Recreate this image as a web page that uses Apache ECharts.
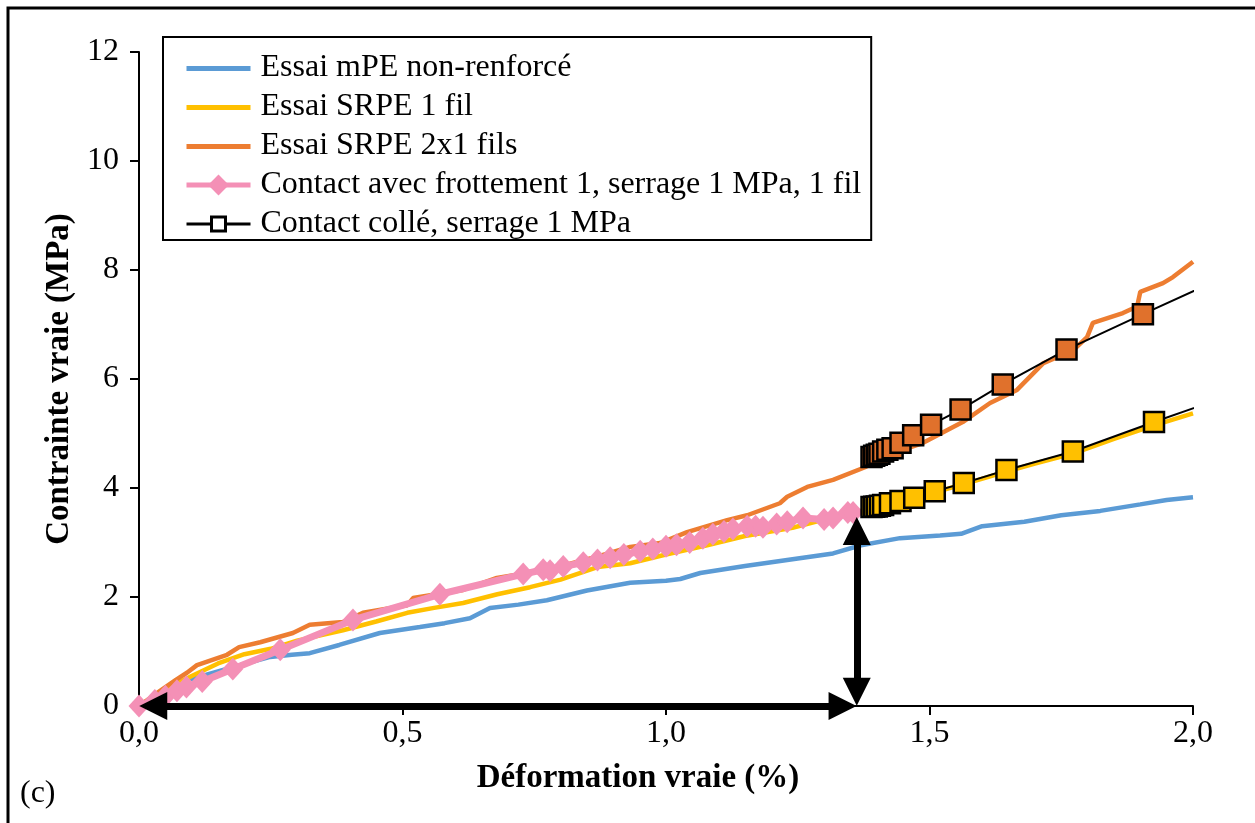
<!DOCTYPE html>
<html>
<head>
<meta charset="utf-8">
<script src="https://cdn.jsdelivr.net/npm/echarts@6/dist/echarts.min.js"></script>
<style>
  html, body { margin: 0; padding: 0; background: #fff; }
  #chart { width: 1255px; height: 823px; }
</style>
</head>
<body>
<div id="chart"></div>
<script>
// noms des séries (légende)
const legendNames = [
    'Essai mPE non-renforcé',
    'Essai SRPE 1 fil',
    'Essai SRPE 2x1 fils',
    'Contact avec frottement 1, serrage 1 MPa, 1 fil',
    'Contact collé, serrage 1 MPa'
];

// [déformation %, contrainte MPa]
const essaiMPE = [
    [0, 0], [0.02, 0.1], [0.05, 0.3], [0.08, 0.45], [0.12, 0.55], [0.173, 0.7], [0.249, 0.9],
    [0.29, 0.94], [0.324, 0.97], [0.38, 1.12], [0.457, 1.34], [0.533, 1.45], [0.58, 1.52],
    [0.628, 1.61], [0.666, 1.8], [0.72, 1.86], [0.774, 1.94], [0.85, 2.12], [0.932, 2.26],
    [1.0, 2.3], [1.027, 2.33], [1.065, 2.44], [1.15, 2.57], [1.23, 2.68], [1.317, 2.8],
    [1.37, 2.95], [1.444, 3.08], [1.52, 3.13], [1.56, 3.16], [1.6, 3.3], [1.68, 3.38],
    [1.75, 3.5], [1.824, 3.58], [1.9, 3.7], [1.95, 3.78], [2.0, 3.83]
];
const essaiSRPE1 = [
    [0, 0], [0.05, 0.3], [0.1, 0.55], [0.15, 0.78], [0.2, 0.95], [0.25, 1.05], [0.3, 1.2],
    [0.387, 1.39], [0.45, 1.55], [0.509, 1.71], [0.56, 1.8], [0.615, 1.89], [0.68, 2.05],
    [0.742, 2.18], [0.8, 2.32], [0.87, 2.55], [0.932, 2.62], [1.0, 2.78], [1.078, 2.95],
    [1.15, 3.12], [1.24, 3.27], [1.3, 3.42], [1.38, 3.6], [1.39, 3.64], [1.45, 3.75],
    [1.51, 3.92], [1.565, 4.07], [1.646, 4.3], [1.7, 4.45], [1.772, 4.63], [1.85, 4.9],
    [1.926, 5.15], [1.96, 5.25], [2.0, 5.37]
];
const essaiSRPE2 = [
    [0, 0], [0.04, 0.28], [0.07, 0.48], [0.091, 0.61], [0.11, 0.75], [0.167, 0.94], [0.19, 1.08],
    [0.23, 1.17], [0.292, 1.34], [0.324, 1.49], [0.387, 1.54], [0.425, 1.71], [0.509, 1.85],
    [0.52, 1.98], [0.615, 2.13], [0.679, 2.35], [0.774, 2.5], [0.869, 2.74], [0.932, 2.92],
    [0.989, 2.99], [1.04, 3.19], [1.116, 3.41], [1.154, 3.5], [1.216, 3.72], [1.23, 3.84],
    [1.268, 4.02], [1.317, 4.15], [1.38, 4.39], [1.393, 4.51], [1.488, 4.83], [1.563, 5.21],
    [1.615, 5.56], [1.666, 5.8], [1.716, 6.29], [1.773, 6.53], [1.799, 6.77], [1.81, 7.03],
    [1.867, 7.21], [1.894, 7.33], [1.9, 7.6], [1.943, 7.76], [1.962, 7.87], [2.0, 8.15]
];
const contactFrottement = [
    [0, 0], [0.03, 0.1], [0.05, 0.18], [0.072, 0.28], [0.09, 0.35], [0.12, 0.45], [0.178, 0.68],
    [0.268, 1.03], [0.406, 1.58], [0.571, 2.05], [0.729, 2.42], [0.767, 2.5], [0.78, 2.48],
    [0.805, 2.56], [0.843, 2.63], [0.87, 2.68], [0.894, 2.72], [0.92, 2.78], [0.951, 2.84],
    [0.975, 2.88], [1.0, 2.93], [1.02, 2.96], [1.045, 3.0], [1.07, 3.08], [1.089, 3.15],
    [1.11, 3.2], [1.127, 3.25], [1.154, 3.3], [1.17, 3.3], [1.184, 3.28], [1.21, 3.34],
    [1.23, 3.38], [1.26, 3.45], [1.3, 3.42], [1.317, 3.45], [1.345, 3.55], [1.355, 3.55]
];
const colle1fil = [
    [1.39, 3.65], [1.395, 3.655], [1.4, 3.66], [1.406, 3.675], [1.412, 3.69], [1.425, 3.72],
    [1.445, 3.76], [1.471, 3.82], [1.51, 3.94], [1.565, 4.09], [1.646, 4.33], [1.772, 4.67],
    [1.926, 5.21], [2.1, 5.8]
];
const colle2fils = [
    [1.39, 4.57], [1.395, 4.59], [1.4, 4.61], [1.405, 4.63], [1.412, 4.67], [1.42, 4.7],
    [1.43, 4.73], [1.445, 4.83], [1.469, 4.97], [1.503, 5.16], [1.559, 5.44], [1.639, 5.9],
    [1.76, 6.54], [1.905, 7.19], [2.1, 8.05]
];
// flèches : centres des pointes (la pointe dépasse d'une demi-taille)
const arrowH = [0.027, 1.335];      // horizontale, en déformation
const arrowX = 1.362;               // verticale, position
const arrowV = [0.26, 3.21];        // verticale, en contrainte

const font = "'Liberation Serif', 'Times New Roman', serif";
// icônes de légende : trait épais seul / trait + carré blanc
const barIcon = 'path://M0,0L0,0M0,11L64,11L64,16L0,16ZM64,26L64,26';
const squareIcon = 'path://M0,0L0,0M0,13L25,13M39,13L64,13M25,6L39,6L39,20L25,20ZM64,26L64,26';

const chart = echarts.init(document.getElementById('chart'));

const plain = (name, data, color, z) => ({
    type: 'line', name: name, data: data, symbol: 'none', z: z,
    lineStyle: {color: color, width: 4.5}, itemStyle: {color: color}
});
const squares = (name, data, fill) => ({
    type: 'line', name: name, data: data, z: 6,
    symbol: 'rect', symbolSize: 20, showAllSymbol: true,
    lineStyle: {color: '#000', width: 2},
    itemStyle: {color: fill, borderColor: '#000', borderWidth: 2.5}
});

chart.setOption({
    animation: false,
    textStyle: {fontFamily: font},
    graphic: [
        {type: 'rect', shape: {x: 8, y: 8, width: 1260, height: 830}, style: {fill: 'none', stroke: '#000', lineWidth: 3}},
        {type: 'text', left: 20, top: 778, style: {text: '(c)', font: '32px ' + font, fill: '#000'}}
    ],
    grid: {left: 139, right: 62, top: 52, bottom: 117},
    legend: {
        orient: 'vertical', left: 163, top: 37,
        data: [
            {name: legendNames[0], icon: barIcon},
            {name: legendNames[1], icon: barIcon},
            {name: legendNames[2], icon: barIcon},
            {name: legendNames[3], lineStyle: {width: 5}},
            {name: legendNames[4], icon: squareIcon,
                itemStyle: {color: '#fff', borderColor: '#000', borderWidth: 3}}
        ],
        itemWidth: 64, itemHeight: 26, itemGap: 7,
        padding: [15, 10, 0, 21],
        borderColor: '#000', borderWidth: 2,
        textStyle: {fontFamily: font, fontSize: 32, color: '#000', padding: [0, 0, 0, 5]}
    },
    xAxis: {
        type: 'value', min: 0, max: 2, interval: 0.5,
        name: 'Déformation vraie (%)', nameLocation: 'middle', nameGap: 56,
        nameTextStyle: {fontFamily: font, fontSize: 33, fontWeight: 'bold', color: '#000', padding: [0, 56, 0, 0]},
        axisLine: {lineStyle: {color: '#000', width: 2}},
        axisTick: {length: 9, lineStyle: {color: '#000', width: 2}},
        axisLabel: {fontFamily: font, fontSize: 32, color: '#000', margin: 12,
            formatter: v => v.toFixed(1).replace('.', ',')},
        splitLine: {show: false}
    },
    yAxis: {
        type: 'value', min: 0, max: 12, interval: 2,
        name: 'Contrainte vraie (MPa)', nameLocation: 'middle', nameGap: 60,
        nameTextStyle: {fontFamily: font, fontSize: 33, fontWeight: 'bold', color: '#000'},
        axisLine: {show: true, lineStyle: {color: '#000', width: 2}},
        axisTick: {show: true, length: 9, lineStyle: {color: '#000', width: 2}},
        axisLabel: {fontFamily: font, fontSize: 32, color: '#000', margin: 20},
        splitLine: {show: false}
    },
    series: [
        plain(legendNames[0], essaiMPE, '#5B9BD5', 2),
        plain(legendNames[1], essaiSRPE1, '#FFC000', 3),
        plain(legendNames[2], essaiSRPE2, '#ED7D31', 4),
        {
            type: 'line', name: legendNames[3], data: contactFrottement, z: 5,
            symbol: 'diamond', symbolSize: [21, 23], showAllSymbol: true,
            lineStyle: {color: '#F490B6', width: 7},
            itemStyle: {color: '#F490B6'}
        },
        {
            type: 'line', name: legendNames[4], data: [],
            symbol: 'rect', symbolSize: 18,
            lineStyle: {color: '#000', width: 3},
            itemStyle: {color: '#fff', borderColor: '#000', borderWidth: 2.5}
        },
        squares('collé 1 fil', colle1fil, '#FFC000'),
        Object.assign(squares('collé 2x1 fils', colle2fils, '#E0712C'), {
            markLine: {
                z: 10,
                silent: true, symbol: ['triangle', 'triangle'], symbolSize: 28,
                symbolKeepAspect: false,
                label: {show: false},
                lineStyle: {color: '#000', width: 7, type: 'solid'},
                itemStyle: {color: '#000'},
                data: [
                    [{coord: [arrowH[0], 0]}, {coord: [arrowH[1], 0]}],
                    [{coord: [arrowX, arrowV[0]]}, {coord: [arrowX, arrowV[1]]}]
                ]
            }
        })
    ]
});
</script>
</body>
</html>
